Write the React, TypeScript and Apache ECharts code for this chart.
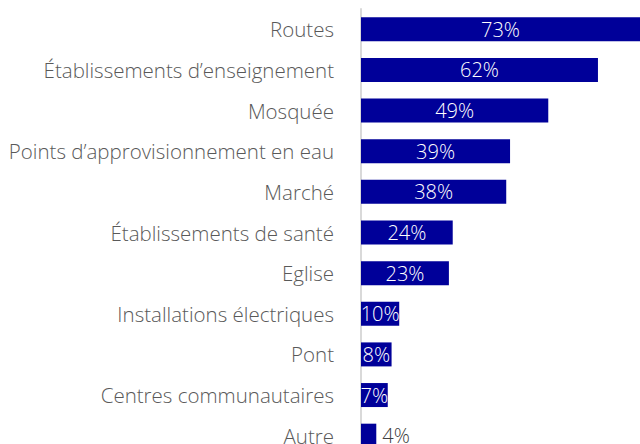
import React, { useEffect, useRef } from "react";
import * as echarts from "echarts";

const categories = [
  "Routes",
  "Établissements d’enseignement",
  "Mosquée",
  "Points d’approvisionnement en eau",
  "Marché",
  "Établissements de santé",
  "Eglise",
  "Installations électriques",
  "Pont",
  "Centres communautaires",
  "Autre",
];
const values = [73, 62, 49, 39, 38, 24, 23, 10, 8, 7, 4];

const FONT = "'Open Sans'";

export default function App() {
  const ref = useRef<HTMLDivElement>(null);
  useEffect(() => {
    if (!ref.current) return;
    const chart = echarts.init(ref.current, null, { renderer: "svg" });
    chart.setOption({
      animation: false,
      grid: { left: 361, right: 0, top: 9, height: 447, containLabel: false },
      xAxis: {
        type: "value",
        min: 0,
        max: 73,
        show: false,
      },
      yAxis: {
        type: "category",
        inverse: true,
        data: categories,
        axisLine: { show: true, lineStyle: { color: "#d9d9d9", width: 2 } },
        axisTick: { show: false },
        axisLabel: {
          color: "#595959",
          fontFamily: FONT,
          fontWeight: 300,
          fontSize: 20.5,
          margin: 27,
        },
      },
      series: [
        {
          type: "bar",
          barWidth: 24,
          data: values.map((v) => ({
            value: v,
            label:
              v < 5
                ? { position: "right", color: "#404040", distance: 6 }
                : { position: "inside", color: "#ffffff" },
          })),
          itemStyle: { color: "#000099" },
          label: {
            show: true,
            formatter: "{c}%",
            fontFamily: FONT,
            fontWeight: 300,
            fontSize: 20,
          },
        },
      ],
    });
    return () => chart.dispose();
  }, []);
  return (
    <div
      style={{
        position: "absolute",
        left: 0,
        top: 0,
        width: 640,
        height: 444,
        overflow: "hidden",
      }}
    >
      <div ref={ref} style={{ width: 640, height: 470 }} />
    </div>
  );
}
